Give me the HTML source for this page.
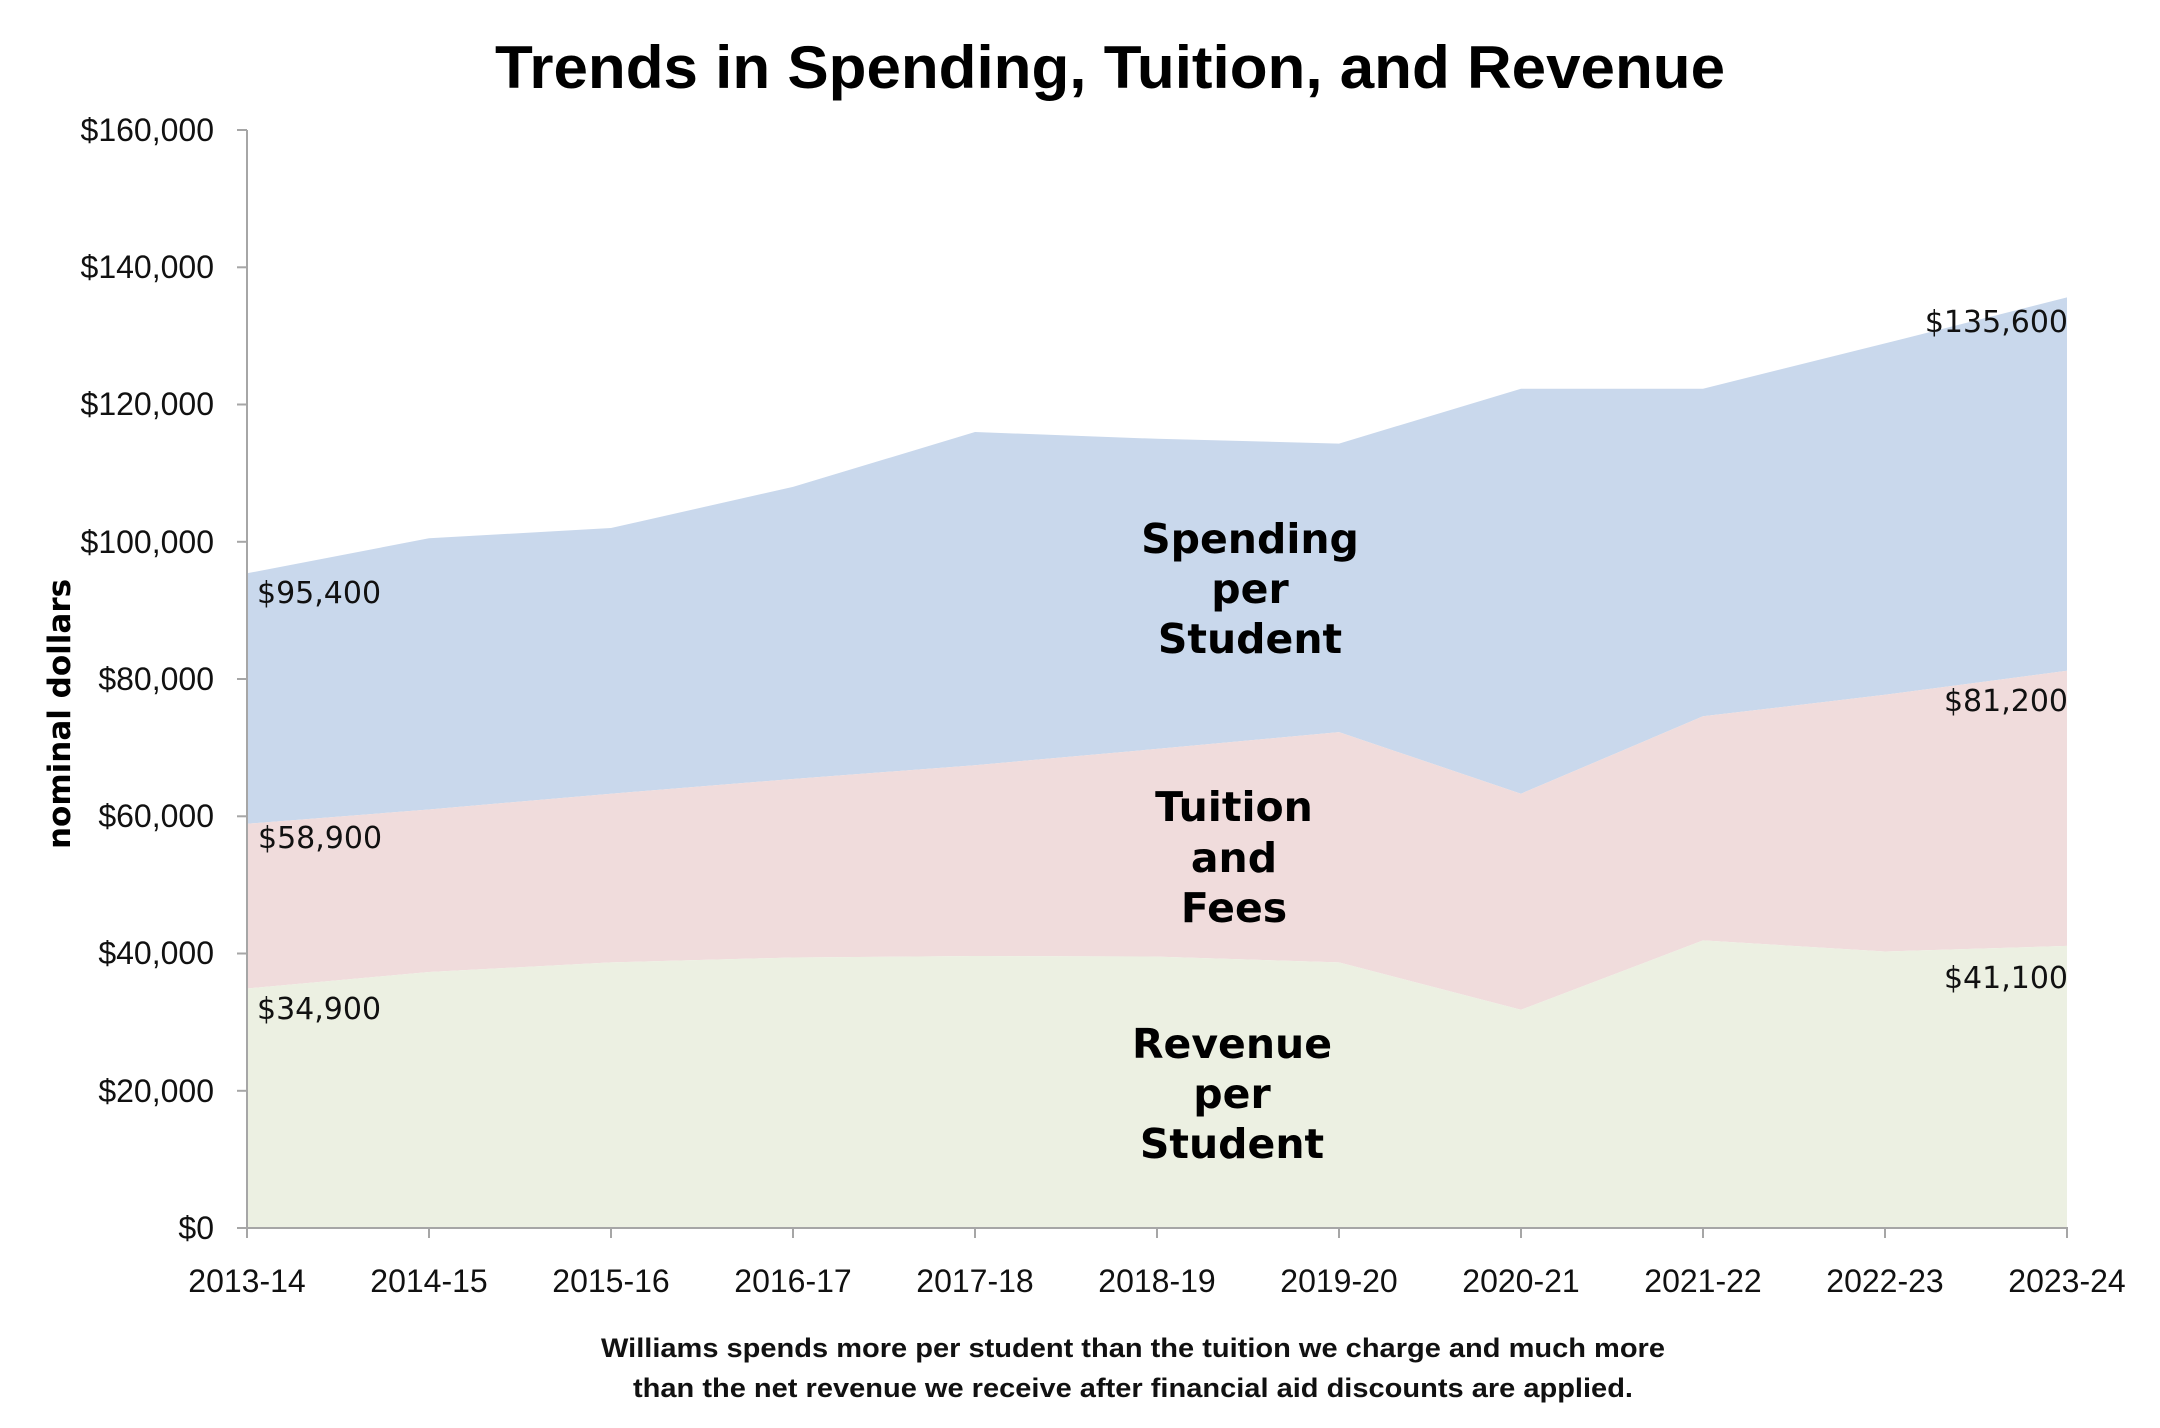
<!DOCTYPE html>
<html><head><meta charset="utf-8"><style>
html,body{margin:0;padding:0;background:#fff;}
svg{display:block}
</style></head><body>
<svg width="2160" height="1428" viewBox="0 0 2160 1428" xmlns="http://www.w3.org/2000/svg">
<rect width="2160" height="1428" fill="#fff"/>
<polygon fill="#c9d8ec" points="247,573.3 429,538.3 611,528.0 793,486.9 975,432.0 1157,438.8 1339,443.6 1521,388.7 1703,388.7 1885,343.4 2067,297.4 2067,670.8 1885,694.8 1703,716.3 1521,793.7 1339,732.1 1157,748.9 975,765.2 793,779.0 611,793.7 429,809.5 247,823.8"/>
<polygon fill="#f0dcdc" points="247,823.8 429,809.5 611,793.7 793,779.0 975,765.2 1157,748.9 1339,732.1 1521,793.7 1703,716.3 1885,694.8 2067,670.8 2067,945.9 1885,951.5 1703,940.4 1521,1009.8 1339,962.4 1157,956.6 975,956.0 793,957.5 611,962.4 429,972.0 247,988.5"/>
<polygon fill="#ecf0e2" points="247,988.5 429,972.0 611,962.4 793,957.5 975,956.0 1157,956.6 1339,962.4 1521,1009.8 1703,940.4 1885,951.5 2067,945.9 2067,1228 247,1228"/>
<g stroke="#a6a6a6" stroke-width="2" fill="none">
<line x1="247" y1="130" x2="247" y2="1229"/>
<line x1="246" y1="1228" x2="2068" y2="1228"/>
<line x1="237" y1="130" x2="247" y2="130"/><line x1="237" y1="267.3" x2="247" y2="267.3"/><line x1="237" y1="404.5" x2="247" y2="404.5"/><line x1="237" y1="541.8" x2="247" y2="541.8"/><line x1="237" y1="679" x2="247" y2="679"/><line x1="237" y1="816.3" x2="247" y2="816.3"/><line x1="237" y1="953.5" x2="247" y2="953.5"/><line x1="237" y1="1090.8" x2="247" y2="1090.8"/><line x1="237" y1="1228" x2="247" y2="1228"/>
<line x1="247" y1="1228" x2="247" y2="1238"/><line x1="429" y1="1228" x2="429" y2="1238"/><line x1="611" y1="1228" x2="611" y2="1238"/><line x1="793" y1="1228" x2="793" y2="1238"/><line x1="975" y1="1228" x2="975" y2="1238"/><line x1="1157" y1="1228" x2="1157" y2="1238"/><line x1="1339" y1="1228" x2="1339" y2="1238"/><line x1="1521" y1="1228" x2="1521" y2="1238"/><line x1="1703" y1="1228" x2="1703" y2="1238"/><line x1="1885" y1="1228" x2="1885" y2="1238"/><line x1="2067" y1="1228" x2="2067" y2="1238"/>
</g>
<text x="1110" y="88" text-anchor="middle" font-family="Liberation Sans, sans-serif" font-weight="bold" font-size="60" textLength="1230" lengthAdjust="spacingAndGlyphs" fill="#000">Trends in Spending, Tuition, and Revenue</text>
<g font-family="Liberation Sans, sans-serif" font-size="32" fill="#111" text-anchor="end">
<text x="214" y="141">$160,000</text><text x="214" y="278">$140,000</text><text x="214" y="415">$120,000</text><text x="214" y="553">$100,000</text><text x="214" y="690">$80,000</text><text x="214" y="827">$60,000</text><text x="214" y="964">$40,000</text><text x="214" y="1102">$20,000</text><text x="214" y="1239">$0</text>
</g>
<g font-family="Liberation Sans, sans-serif" font-size="32" fill="#111" text-anchor="middle">
<text x="247" y="1292">2013-14</text><text x="429" y="1292">2014-15</text><text x="611" y="1292">2015-16</text><text x="793" y="1292">2016-17</text><text x="975" y="1292">2017-18</text><text x="1157" y="1292">2018-19</text><text x="1339" y="1292">2019-20</text><text x="1521" y="1292">2020-21</text><text x="1703" y="1292">2021-22</text><text x="1885" y="1292">2022-23</text><text x="2067" y="1292">2023-24</text>
</g>
<text transform="translate(70,714) rotate(-90)" text-anchor="middle" font-family="DejaVu Sans, sans-serif" font-weight="bold" font-size="31" fill="#000">nominal dollars</text>
<g font-family="DejaVu Sans, sans-serif" font-size="30" fill="#111">
<text x="257" y="603">$95,400</text><text x="258" y="848">$58,900</text><text x="257" y="1019">$34,900</text>
<g text-anchor="end"><text x="2068" y="332">$135,600</text><text x="2068" y="711">$81,200</text><text x="2068" y="988">$41,100</text></g>
</g>
<g font-family="DejaVu Sans, sans-serif" font-weight="bold" font-size="41" fill="#000" text-anchor="middle">
<text x="1250" y="553">Spending</text><text x="1250" y="603">per</text><text x="1250" y="653">Student</text>
<text x="1234" y="821">Tuition</text><text x="1234" y="872">and</text><text x="1234" y="922">Fees</text>
<text x="1232" y="1058">Revenue</text><text x="1232" y="1108">per</text><text x="1232" y="1158">Student</text>
</g>
<g font-family="Liberation Sans, sans-serif" font-weight="bold" font-size="27" fill="#111" text-anchor="middle">
<text x="1133" y="1357" textLength="1064" lengthAdjust="spacingAndGlyphs">Williams spends more per student than the tuition we charge and much more</text>
<text x="1133" y="1397" textLength="1000" lengthAdjust="spacingAndGlyphs">than the net revenue we receive after financial aid discounts are applied.</text>
</g>
</svg>
</body></html>
